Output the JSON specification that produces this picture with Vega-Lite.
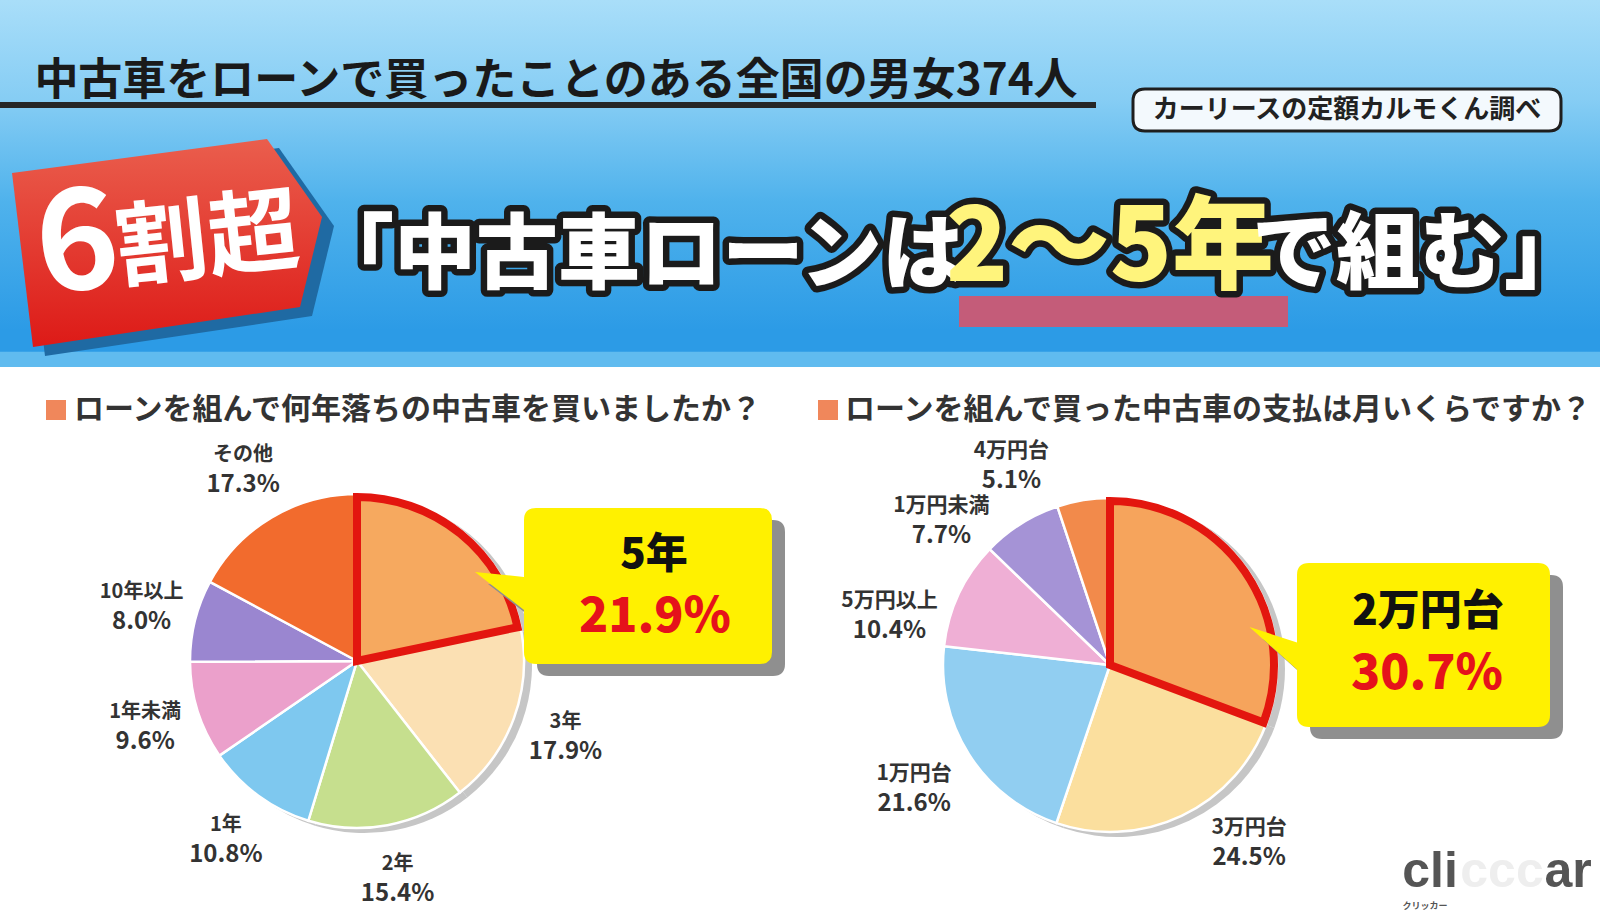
{
  "$schema": "https://vega.github.io/schema/vega-lite/v6.json",
  "background": "#ffffff",
  "padding": 0,
  "spacing": 0,
  "bounds": "flush",
  "config": {"view": {"stroke": null}, "font": "Noto Sans CJK JP"},
  "datasets": {
    "pie1": [
      {"question": "何年落ち", "i": 1, "label": "5年", "share": 0.219},
      {"question": "何年落ち", "i": 2, "label": "3年", "share": 0.179},
      {"question": "何年落ち", "i": 3, "label": "2年", "share": 0.154},
      {"question": "何年落ち", "i": 4, "label": "1年", "share": 0.108},
      {"question": "何年落ち", "i": 5, "label": "1年未満", "share": 0.096},
      {"question": "何年落ち", "i": 6, "label": "10年以上", "share": 0.080},
      {"question": "何年落ち", "i": 7, "label": "その他", "share": 0.173}
    ],
    "pie2": [
      {"question": "月々の支払", "i": 1, "label": "2万円台", "share": 0.307},
      {"question": "月々の支払", "i": 2, "label": "3万円台", "share": 0.245},
      {"question": "月々の支払", "i": 3, "label": "1万円台", "share": 0.216},
      {"question": "月々の支払", "i": 4, "label": "5万円以上", "share": 0.104},
      {"question": "月々の支払", "i": 5, "label": "1万円未満", "share": 0.077},
      {"question": "月々の支払", "i": 6, "label": "4万円台", "share": 0.051}
    ],
    "questions": [
      {"question": "何年落ち", "title": "ローンを組んで何年落ちの中古車を買いましたか？"},
      {"question": "月々の支払", "title": "ローンを組んで買った中古車の支払は月いくらですか？"}
    ]
  },
  "vconcat": [
    {
      "width": 1600,
      "height": 367,
      "data": {"values": [{"section": "header"}]},
      "layer": [
        {"mark": {"type": "rect", "strokeWidth": 0, "fill": {"gradient": "linear", "x1": 0, "y1": 0, "x2": 0, "y2": 1, "stops": [
          {"offset": 0, "color": "#a9def9"},
          {"offset": 0.27, "color": "#86cdf4"},
          {"offset": 0.55, "color": "#4fb2ec"},
          {"offset": 0.9, "color": "#2c9be6"},
          {"offset": 0.957, "color": "#2c9be6"},
          {"offset": 0.96, "color": "#60bbef"},
          {"offset": 1, "color": "#60bbef"}
        ]}}},
        {"mark": {"type": "text", "text": "中古車をローンで買ったことのある全国の男女374人", "fontSize": 44, "fontWeight": "bold", "fill": "#1a1a1a", "align": "center", "baseline": "middle", "dx": -244, "dy": -102}},
        {"mark": {"type": "point", "shape": "M -800 -81.5 H 296 V -75.5 H -800 Z", "size": 4, "filled": true, "fill": "#262626", "opacity": 1, "strokeWidth": 0}},
        {"mark": {"type": "point", "shape": "M 345 -94.5 H 749 Q 761 -94.5 761 -82.5 V -64.5 Q 761 -52.5 749 -52.5 H 345 Q 333 -52.5 333 -64.5 V -82.5 Q 333 -94.5 345 -94.5 Z", "size": 4, "filled": true, "fill": "#f3f9fd", "stroke": "#1e1e1e", "strokeWidth": 3, "opacity": 1}},
        {"mark": {"type": "text", "text": "カーリースの定額カルモくん調べ", "fontSize": 26, "fontWeight": "bold", "fill": "#222222", "align": "center", "baseline": "middle", "dx": 547, "dy": -73.5}},
        {"mark": {"type": "point", "shape": "M -776 -1.5 L -521 -35.5 L -466 42.5 L -488 132.5 L -755 172.5 Z", "size": 4, "filled": true, "fill": "#1f6aa3", "opacity": 1, "strokeWidth": 0}},
        {"mark": {"type": "point", "shape": "M -788 -10.5 L -533 -44.5 L -478 33.5 L -500 123.5 L -767 163.5 Z", "size": 4, "filled": true, "opacity": 1, "strokeWidth": 0, "fill": {"gradient": "linear", "x1": 0, "y1": 0, "x2": 0, "y2": 1, "stops": [{"offset": 0, "color": "#ea5e4d"}, {"offset": 1, "color": "#dd1a17"}]}}},
        {"mark": {"type": "text", "text": "6", "fontSize": 140, "fontWeight": "bold", "fill": "#ffffff", "align": "center", "baseline": "middle", "angle": -6, "dx": -725, "dy": -12}},
        {"mark": {"type": "text", "text": "割超", "fontSize": 92, "fontWeight": "bold", "fill": "#ffffff", "align": "center", "baseline": "middle", "angle": -6, "dx": -595, "dy": -3}},
        {"mark": {"type": "point", "shape": "M 159 112.5 H 488 V 143.5 H 159 Z", "size": 4, "filled": true, "fill": "#c45c79", "opacity": 1, "strokeWidth": 0}},
        {"mark": {"type": "text", "text": "「中古車ローンは", "fontSize": 82, "fontWeight": 900, "fill": "#1b1b1b", "stroke": "#1b1b1b", "strokeWidth": 13, "strokeJoin": "round", "align": "center", "baseline": "middle", "dx": -162, "dy": 73.5}},
        {"mark": {"type": "text", "text": "2〜5年", "fontSize": 102, "fontWeight": 900, "fill": "#1b1b1b", "stroke": "#1b1b1b", "strokeWidth": 13, "strokeJoin": "round", "align": "center", "baseline": "middle", "dx": 310, "dy": 66.5}},
        {"mark": {"type": "text", "text": "で組む」", "fontSize": 84, "fontWeight": 900, "fill": "#1b1b1b", "stroke": "#1b1b1b", "strokeWidth": 13, "strokeJoin": "round", "align": "center", "baseline": "middle", "dx": 620, "dy": 73.5}},
        {"mark": {"type": "text", "text": "「中古車ローンは", "fontSize": 82, "fontWeight": 900, "fill": "#ffffff", "align": "center", "baseline": "middle", "dx": -162, "dy": 73.5}},
        {"mark": {"type": "text", "text": "2〜5年", "fontSize": 102, "fontWeight": 900, "fill": "#fff47c", "align": "center", "baseline": "middle", "dx": 310, "dy": 66.5}},
        {"mark": {"type": "text", "text": "で組む」", "fontSize": 84, "fontWeight": 900, "fill": "#ffffff", "align": "center", "baseline": "middle", "dx": 620, "dy": 73.5}}
      ]
    },
    {
      "width": 1600,
      "height": 550,
      "layer": [
        {
          "encoding": {
            "x": {"field": "question", "type": "nominal", "scale": {"type": "point", "domain": ["何年落ち", "月々の支払"], "range": [357, 1110], "padding": 0}, "axis": null},
            "y": {"field": "question", "type": "nominal", "scale": {"type": "point", "domain": ["何年落ち", "月々の支払"], "range": [294, 298], "padding": 0}, "axis": null}
          },
          "layer": [
            {"data": {"name": "questions"}, "transform": [{"filter": "datum.question === '何年落ち'"}],
             "mark": {"type": "point", "shape": "square", "size": 400, "filled": true, "fill": "#f0875b", "opacity": 1, "strokeWidth": 0, "xOffset": -301, "yOffset": -251}},
            {"data": {"name": "questions"}, "transform": [{"filter": "datum.question === '何年落ち'"}],
             "mark": {"type": "text", "fontSize": 30, "fontWeight": "bold", "fill": "#333333", "align": "left", "baseline": "middle", "dx": -283, "dy": -251},
             "encoding": {"text": {"field": "title", "type": "nominal"}}},
            {"data": {"name": "questions"}, "transform": [{"filter": "datum.question === '月々の支払'"}],
             "mark": {"type": "point", "shape": "square", "size": 400, "filled": true, "fill": "#f0875b", "opacity": 1, "strokeWidth": 0, "xOffset": -282, "yOffset": -255}},
            {"data": {"name": "questions"}, "transform": [{"filter": "datum.question === '月々の支払'"}],
             "mark": {"type": "text", "fontSize": 30, "fontWeight": "bold", "fill": "#333333", "align": "left", "baseline": "middle", "dx": -265, "dy": -255},
             "encoding": {"text": {"field": "title", "type": "nominal"}}},

            {"data": {"name": "pie1"}, "mark": {"type": "arc", "radius": 168, "xOffset": 7, "yOffset": 4, "fill": "#c6c6c6", "strokeWidth": 0},
             "encoding": {"theta": {"field": "share", "type": "quantitative", "stack": true}, "order": {"field": "i", "type": "quantitative"}}},
            {"data": {"name": "pie1"}, "mark": {"type": "arc", "radius": 167, "stroke": "#ffffff", "strokeWidth": 2.5},
             "encoding": {"theta": {"field": "share", "type": "quantitative", "stack": true}, "order": {"field": "i", "type": "quantitative"},
               "color": {"field": "label", "type": "nominal", "legend": null, "scale": {
                 "domain": ["5年", "3年", "2年", "1年", "1年未満", "10年以上", "その他", "2万円台", "3万円台", "1万円台", "5万円以上", "1万円未満", "4万円台"],
                 "range": ["#f6a95f", "#fbe0b3", "#c6df8e", "#7ec8ef", "#eba0cb", "#9a86d0", "#f26b2d", "#f6a45c", "#fbdf9e", "#91cef1", "#efafd5", "#a593d6", "#f28a4b"]}}}},
            {"data": {"name": "pie1"}, "mark": {"type": "arc", "radius": 164, "fillOpacity": 0, "stroke": "#e3160f", "strokeWidth": 8, "strokeJoin": "miter"},
             "encoding": {"theta": {"field": "share", "type": "quantitative", "stack": true}, "order": {"field": "i", "type": "quantitative"},
               "strokeOpacity": {"condition": {"test": "datum.label === '5年'", "value": 1}, "value": 0}}},
            {"data": {"name": "pie1"}, "mark": {"type": "text", "radius": 222, "fontSize": 20, "fontWeight": "bold", "fill": "#333333", "dy": -15},
             "encoding": {"theta": {"field": "share", "type": "quantitative", "stack": true}, "order": {"field": "i", "type": "quantitative"},
               "text": {"condition": {"test": "datum.label === '5年'", "value": ""}, "field": "label", "type": "nominal"}}},
            {"data": {"name": "pie1"}, "mark": {"type": "text", "radius": 222, "fontSize": 24, "fontWeight": "bold", "fill": "#333333", "dy": 15},
             "encoding": {"theta": {"field": "share", "type": "quantitative", "stack": true}, "order": {"field": "i", "type": "quantitative"},
               "text": {"condition": {"test": "datum.label === '5年'", "value": ""}, "field": "share", "type": "quantitative", "format": ".1%"}}},
            {"data": {"name": "pie1"}, "transform": [{"filter": "datum.label === '5年'"}],
             "mark": {"type": "point", "shape": "M -112 -78 H 112 Q 124 -78 124 -66 V 66 Q 124 78 112 78 H -112 Q -124 78 -124 66 V 24 L -173 -14 L -124 -9 V -66 Q -124 -78 -112 -78 Z", "size": 4, "filled": true, "fill": "#8f8f8f", "opacity": 1, "strokeWidth": 0, "xOffset": 304, "yOffset": -63}},
            {"data": {"name": "pie1"}, "transform": [{"filter": "datum.label === '5年'"}],
             "mark": {"type": "point", "shape": "M -112 -78 H 112 Q 124 -78 124 -66 V 66 Q 124 78 112 78 H -112 Q -124 78 -124 66 V 24 L -173 -14 L -124 -9 V -66 Q -124 -78 -112 -78 Z", "size": 4, "filled": true, "fill": "#fff100", "opacity": 1, "strokeWidth": 0, "xOffset": 291, "yOffset": -75}},
            {"data": {"name": "pie1"}, "transform": [{"filter": "datum.label === '5年'"}],
             "mark": {"type": "text", "fontSize": 42, "fontWeight": 900, "fill": "#111111", "align": "center", "baseline": "middle", "dx": 297, "dy": -106},
             "encoding": {"text": {"field": "label", "type": "nominal"}}},
            {"data": {"name": "pie1"}, "transform": [{"filter": "datum.label === '5年'"}],
             "mark": {"type": "text", "fontSize": 48, "fontWeight": 900, "fill": "#e5121b", "align": "center", "baseline": "middle", "dx": 298, "dy": -43},
             "encoding": {"text": {"field": "share", "type": "quantitative", "format": ".1%"}}},

            {"data": {"name": "pie2"}, "mark": {"type": "arc", "radius": 168, "xOffset": 7, "yOffset": 4, "fill": "#c6c6c6", "strokeWidth": 0},
             "encoding": {"theta": {"field": "share", "type": "quantitative", "stack": true}, "order": {"field": "i", "type": "quantitative"}}},
            {"data": {"name": "pie2"}, "mark": {"type": "arc", "radius": 167, "stroke": "#ffffff", "strokeWidth": 2.5},
             "encoding": {"theta": {"field": "share", "type": "quantitative", "stack": true}, "order": {"field": "i", "type": "quantitative"},
               "color": {"field": "label", "type": "nominal", "legend": null, "scale": {
                 "domain": ["5年", "3年", "2年", "1年", "1年未満", "10年以上", "その他", "2万円台", "3万円台", "1万円台", "5万円以上", "1万円未満", "4万円台"],
                 "range": ["#f6a95f", "#fbe0b3", "#c6df8e", "#7ec8ef", "#eba0cb", "#9a86d0", "#f26b2d", "#f6a45c", "#fbdf9e", "#91cef1", "#efafd5", "#a593d6", "#f28a4b"]}}}},
            {"data": {"name": "pie2"}, "mark": {"type": "arc", "radius": 164, "fillOpacity": 0, "stroke": "#e3160f", "strokeWidth": 8, "strokeJoin": "miter"},
             "encoding": {"theta": {"field": "share", "type": "quantitative", "stack": true}, "order": {"field": "i", "type": "quantitative"},
               "strokeOpacity": {"condition": {"test": "datum.label === '2万円台'", "value": 1}, "value": 0}}},
            {"data": {"name": "pie2"}, "mark": {"type": "text", "radius": 232, "fontSize": 21, "fontWeight": "bold", "fill": "#333333", "dy": -15},
             "encoding": {"theta": {"field": "share", "type": "quantitative", "stack": true}, "order": {"field": "i", "type": "quantitative"},
               "text": {"condition": {"test": "datum.label !== '1万円台'", "value": ""}, "field": "label", "type": "nominal"}}},
            {"data": {"name": "pie2"}, "mark": {"type": "text", "radius": 232, "fontSize": 24, "fontWeight": "bold", "fill": "#333333", "dy": 15},
             "encoding": {"theta": {"field": "share", "type": "quantitative", "stack": true}, "order": {"field": "i", "type": "quantitative"},
               "text": {"condition": {"test": "datum.label !== '1万円台'", "value": ""}, "field": "share", "type": "quantitative", "format": ".1%"}}},
            {"data": {"name": "pie2"}, "mark": {"type": "text", "radius": 226, "thetaOffset": -0.22, "fontSize": 21, "fontWeight": "bold", "fill": "#333333", "dy": -15},
             "encoding": {"theta": {"field": "share", "type": "quantitative", "stack": true}, "order": {"field": "i", "type": "quantitative"},
               "text": {"condition": {"test": "datum.label !== '3万円台' && datum.label !== '5万円以上'", "value": ""}, "field": "label", "type": "nominal"}}},
            {"data": {"name": "pie2"}, "mark": {"type": "text", "radius": 226, "thetaOffset": -0.22, "fontSize": 24, "fontWeight": "bold", "fill": "#333333", "dy": 15},
             "encoding": {"theta": {"field": "share", "type": "quantitative", "stack": true}, "order": {"field": "i", "type": "quantitative"},
               "text": {"condition": {"test": "datum.label !== '3万円台' && datum.label !== '5万円以上'", "value": ""}, "field": "share", "type": "quantitative", "format": ".1%"}}},
            {"data": {"name": "pie2"}, "mark": {"type": "text", "radius": 222, "thetaOffset": -0.3, "fontSize": 21, "fontWeight": "bold", "fill": "#333333", "dy": -15},
             "encoding": {"theta": {"field": "share", "type": "quantitative", "stack": true}, "order": {"field": "i", "type": "quantitative"},
               "text": {"condition": {"test": "datum.label !== '4万円台' && datum.label !== '1万円未満'", "value": ""}, "field": "label", "type": "nominal"}}},
            {"data": {"name": "pie2"}, "mark": {"type": "text", "radius": 222, "thetaOffset": -0.3, "fontSize": 24, "fontWeight": "bold", "fill": "#333333", "dy": 15},
             "encoding": {"theta": {"field": "share", "type": "quantitative", "stack": true}, "order": {"field": "i", "type": "quantitative"},
               "text": {"condition": {"test": "datum.label !== '4万円台' && datum.label !== '1万円未満'", "value": ""}, "field": "share", "type": "quantitative", "format": ".1%"}}},
            {"data": {"name": "pie2"}, "transform": [{"filter": "datum.label === '2万円台'"}],
             "mark": {"type": "point", "shape": "M -114.5 -82 H 114.5 Q 126.5 -82 126.5 -70 V 70 Q 126.5 82 114.5 82 H -114.5 Q -126.5 82 -126.5 70 V 24.5 L -174 -18 L -126.5 -2.5 V -70 Q -126.5 -82 -114.5 -82 Z", "size": 4, "filled": true, "fill": "#8f8f8f", "opacity": 1, "strokeWidth": 0, "xOffset": 326.5, "yOffset": -8}},
            {"data": {"name": "pie2"}, "transform": [{"filter": "datum.label === '2万円台'"}],
             "mark": {"type": "point", "shape": "M -114.5 -82 H 114.5 Q 126.5 -82 126.5 -70 V 70 Q 126.5 82 114.5 82 H -114.5 Q -126.5 82 -126.5 70 V 24.5 L -174 -18 L -126.5 -2.5 V -70 Q -126.5 -82 -114.5 -82 Z", "size": 4, "filled": true, "fill": "#fff100", "opacity": 1, "strokeWidth": 0, "xOffset": 313.5, "yOffset": -20}},
            {"data": {"name": "pie2"}, "transform": [{"filter": "datum.label === '2万円台'"}],
             "mark": {"type": "text", "fontSize": 42, "fontWeight": 900, "fill": "#111111", "align": "center", "baseline": "middle", "dx": 318, "dy": -53},
             "encoding": {"text": {"field": "label", "type": "nominal"}}},
            {"data": {"name": "pie2"}, "transform": [{"filter": "datum.label === '2万円台'"}],
             "mark": {"type": "text", "fontSize": 48, "fontWeight": 900, "fill": "#e5121b", "align": "center", "baseline": "middle", "dx": 317, "dy": 10},
             "encoding": {"text": {"field": "share", "type": "quantitative", "format": ".1%"}}}
          ],
          "resolve": {"scale": {"theta": "independent"}}
        },
        {"data": {"values": [{"brand": "clicccar"}]},
         "mark": {"type": "text", "text": "cli", "font": "Liberation Sans", "fontSize": 50, "fontWeight": "bold", "fill": "#555555", "align": "center", "baseline": "middle", "dx": 630, "dy": 230}},
        {"data": {"values": [{"brand": "clicccar"}]},
         "mark": {"type": "text", "text": "ccc", "font": "Liberation Sans", "fontSize": 50, "fontWeight": "bold", "fill": "#eeeeee", "align": "center", "baseline": "middle", "dx": 702, "dy": 230}},
        {"data": {"values": [{"brand": "clicccar"}]},
         "mark": {"type": "text", "text": "ar", "font": "Liberation Sans", "fontSize": 50, "fontWeight": "bold", "fill": "#555555", "align": "center", "baseline": "middle", "dx": 768, "dy": 230}},
        {"data": {"values": [{"brand": "clicccar"}]},
         "mark": {"type": "text", "text": "クリッカー", "fontSize": 9, "fontWeight": "bold", "fill": "#555555", "align": "center", "baseline": "middle", "dx": 625, "dy": 264}}
      ]
    }
  ]
}
